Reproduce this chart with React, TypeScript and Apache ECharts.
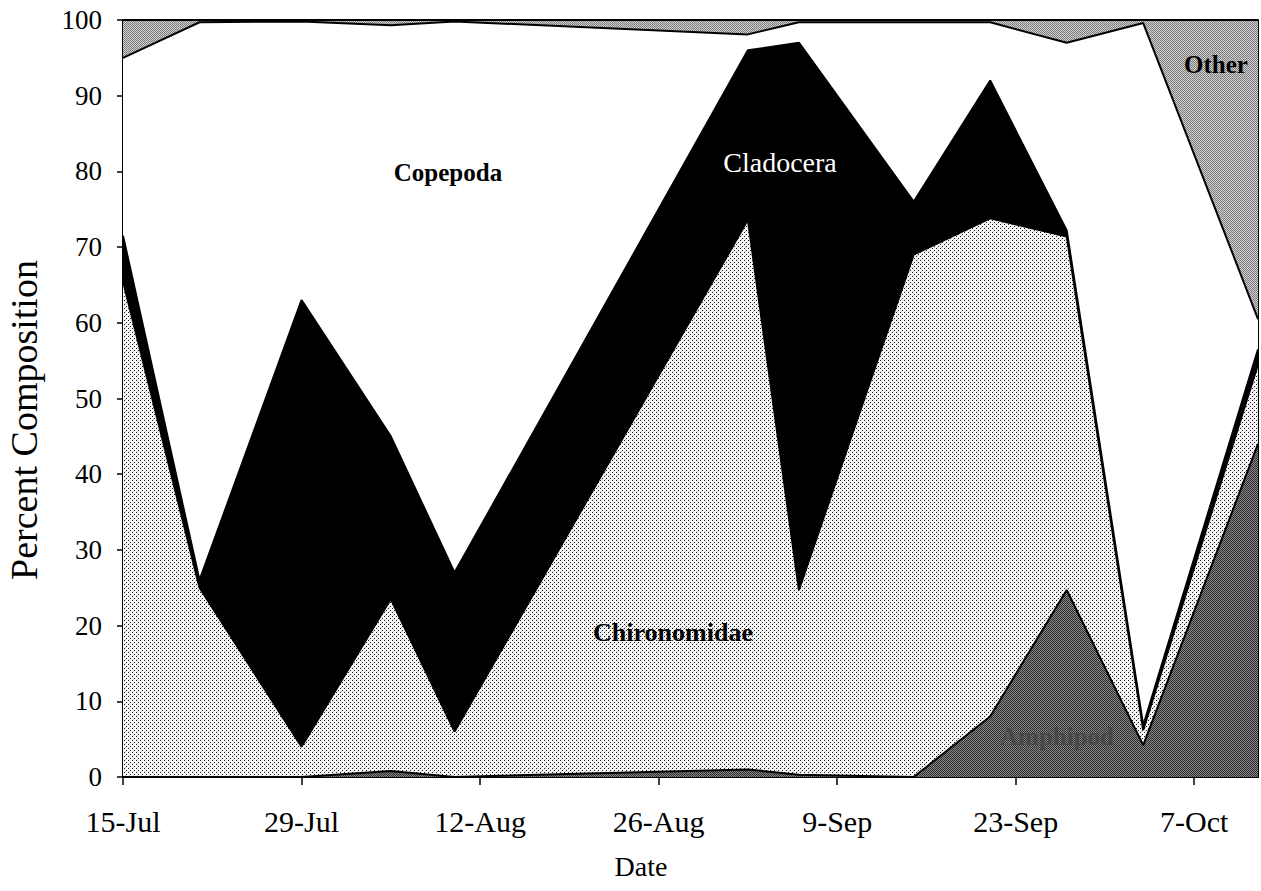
import React, { useEffect, useRef } from "react";
import * as echarts from "echarts";

const sampleDates = [
  "2000-07-15", "2000-07-21", "2000-07-29", "2000-08-05", "2000-08-10", "2000-09-02",
  "2000-09-06", "2000-09-15", "2000-09-21", "2000-09-27", "2000-10-03", "2000-10-12",
];
const xTickLabels = ["15-Jul", "29-Jul", "12-Aug", "26-Aug", "9-Sep", "23-Sep", "7-Oct"];
const yTicks = [0, 10, 20, 30, 40, 50, 60, 70, 80, 90, 100];

const amphipoda = [0, 0, 0, 0.8, 0, 1.0, 0.3, 0, 8, 24.7, 4.2, 44];
const chironomidae = [65.5, 25, 4, 22.7, 6, 72.6, 24.4, 69, 65.8, 46.7, 2.0, 10.5];
const cladocera = [6, 1, 59, 21.5, 21, 22.4, 72.3, 7, 18.2, 0.8, 0.6, 2];
const copepoda = [23.5, 73.7, 36.8, 54.3, 72.8, 2.1, 2.7, 23.7, 7.7, 24.8, 92.8, 4];
const other = [5, 0.3, 0.2, 0.7, 0.2, 1.9, 0.3, 0.3, 0.3, 3, 0.4, 39.5];

const seriesNames = ["Amphipoda", "Chironomidae", "Cladocera", "Copepoda", "Other"];

const FONT = "'Liberation Serif', 'Times New Roman', serif";

function makePattern(size: number, bg: string, dots: [number, number, string][]) {
  const c = document.createElement("canvas");
  c.width = size;
  c.height = size;
  const ctx = c.getContext("2d")!;
  ctx.fillStyle = bg;
  ctx.fillRect(0, 0, size, size);
  dots.forEach(([x, y, col]) => {
    ctx.fillStyle = col;
    ctx.fillRect(x, y, 1, 1);
  });
  return c;
}

export default function App() {
  const ref = useRef<HTMLDivElement>(null);
  useEffect(() => {
    if (!ref.current) return;
    const chart = echarts.init(ref.current, undefined, { renderer: "svg" });
    const base = Date.parse(sampleDates[0]);
    const days = sampleDates.map((d) => Math.round((Date.parse(d) - base) / 86400000));
    const lastDay = days[days.length - 1];

    const chiroPat = makePattern(4, "#f6f6f6", [
      [0, 0, "#1a1a1a"],
      [2, 2, "#1a1a1a"],
      [1, 3, "#c8c8c8"],
    ]);
    const amphPat = makePattern(2, "#858585", [
      [0, 0, "#2a2a2a"],
      [1, 1, "#363636"],
    ]);
    const otherPat = makePattern(2, "#d0d0d0", [
      [0, 0, "#777777"],
      [1, 1, "#828282"],
    ]);

    const fills: any[] = [
      { image: amphPat, repeat: "repeat" },
      { image: chiroPat, repeat: "repeat" },
      "#000000",
      "#ffffff",
      { image: otherPat, repeat: "repeat" },
    ];
    const values = [amphipoda, chironomidae, cladocera, copepoda, other];

    // data as [value, day] with encode so that the value (y) dimension is the stacked one
    const areaSeries = values.map((vals, i) => ({
      name: seriesNames[i],
      type: "line",
      stack: "area",
      data: vals.map((v, j) => [v, days[j]]),
      encode: { x: 1, y: 0 },
      showSymbol: false,
      symbol: "none",
      silent: true,
      lineStyle: { width: 0, opacity: 0 },
      areaStyle: { color: fills[i], opacity: 1 },
      z: 2,
    }));
    const edgeSeries = values.map((vals, i) => ({
      name: seriesNames[i] + " edge",
      type: "line",
      stack: "edge",
      data: vals.map((v, j) => [v, days[j]]),
      encode: { x: 1, y: 0 },
      showSymbol: false,
      symbol: "none",
      silent: true,
      lineStyle: { width: 2, color: "#000" },
      z: 5,
    }));

    const labelFont = (size: number, weight = "bold") => `${weight} ${size}px ${FONT}`;

    chart.setOption({
      animation: false,
      backgroundColor: "#fff",
      grid: { left: 123, right: 3, top: 20, bottom: 114, containLabel: false },
      xAxis: {
        type: "value",
        min: 0,
        max: lastDay,
        interval: 14,
        axisLine: { show: true, lineStyle: { color: "#000", width: 2 } },
        axisTick: { show: true, length: 8, lineStyle: { color: "#000", width: 1.5 } },
        splitLine: { show: false },
        axisLabel: {
          margin: 29,
          color: "#000",
          fontFamily: FONT,
          fontSize: 30,
          showMaxLabel: false,
          formatter: (v: number) => (v % 14 === 0 ? xTickLabels[v / 14] ?? "" : ""),
        },
      },
      yAxis: [
        {
          type: "value",
          min: yTicks[0],
          max: yTicks[yTicks.length - 1],
          interval: 10,
          axisLine: { show: true, lineStyle: { color: "#000", width: 2 } },
          axisTick: { show: true, length: 6, lineStyle: { color: "#000", width: 1.5 } },
          splitLine: { show: false },
          axisLabel: { margin: 21, color: "#000", fontFamily: FONT, fontSize: 27 },
        },
        {
          type: "value",
          position: "right",
          min: 0,
          max: 100,
          interval: 10,
          axisLine: { show: true, lineStyle: { color: "#000", width: 2 } },
          axisTick: { show: false },
          axisLabel: { show: false },
          splitLine: { show: false },
        },
      ],
      series: [...areaSeries, ...edgeSeries],
      graphic: [
        {
          type: "text",
          x: 24,
          y: 420,
          rotation: Math.PI / 2,
          style: { text: "Percent Composition", font: `${38}px ${FONT}`, fill: "#000", align: "center", verticalAlign: "middle" },
        },
        {
          type: "text",
          x: 641,
          y: 866,
          style: { text: "Date", font: `${28}px ${FONT}`, fill: "#000", align: "center", verticalAlign: "middle" },
        },
        {
          type: "text", x: 448, y: 172, z: 10,
          style: { text: "Copepoda", font: labelFont(25), fill: "#000", align: "center", verticalAlign: "middle" },
        },
        {
          type: "text", x: 780, y: 162, z: 10,
          style: { text: "Cladocera", font: labelFont(28, "normal"), fill: "#fff", align: "center", verticalAlign: "middle" },
        },
        {
          type: "text", x: 673, y: 632, z: 10,
          style: { text: "Chironomidae", font: labelFont(26), fill: "#000", align: "center", verticalAlign: "middle" },
        },
        {
          type: "text", x: 1216, y: 64, z: 10,
          style: { text: "Other", font: labelFont(25), fill: "#000", align: "center", verticalAlign: "middle" },
        },
        {
          type: "text", x: 1057, y: 736, z: 10,
          style: { text: "Amphipod", font: labelFont(25), fill: "#484848", align: "center", verticalAlign: "middle" },
        },
      ],
    });
    return () => chart.dispose();
  }, []);
  return <div ref={ref} style={{ position: "fixed", left: 0, top: 0, width: 1261, height: 891 }} />;
}
